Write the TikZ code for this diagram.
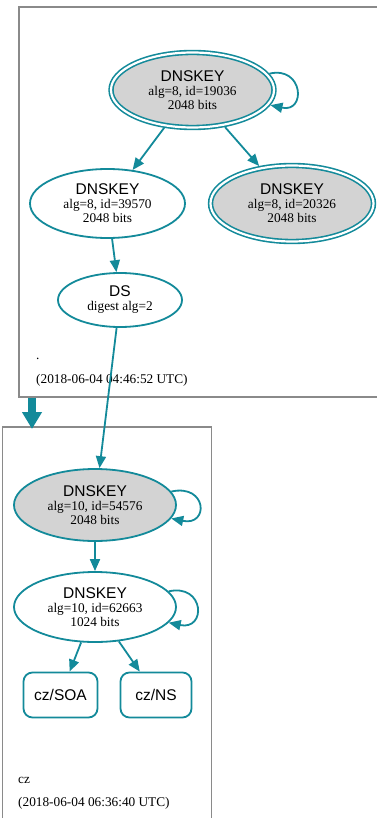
\documentclass[tikz,border=0pt]{standalone}
\usepackage{fontspec}
\setmainfont{Liberation Serif}
\setsansfont{Liberation Sans}
\usetikzlibrary{arrows.meta,shapes.geometric}
\definecolor{sec}{HTML}{138A9A}
\definecolor{kfill}{HTML}{D3D3D3}
\definecolor{clus}{HTML}{8A8A8A}
\newcommand\dkhead{{\sffamily\fontsize{15.5}{14}\selectfont DNSKEY}}
\begin{document}
\begin{tikzpicture}[x=1pt,y=-1pt,
  every node/.style={font=\fontsize{13.3}{14}\selectfont},
  key/.style={ellipse, draw=sec, line width=1.8pt, inner sep=0pt, align=center},
  ksep/.style={key, fill=kfill, double=white, double distance=2.2pt, line width=1.6pt, outer sep=2.7pt},
  rrbox/.style={rectangle, rounded corners=9pt, draw=sec, line width=1.8pt, minimum height=45pt, inner sep=0pt, font=\sffamily\fontsize{15.5}{15}\selectfont},
  edge/.style={draw=sec, line width=1.8pt, -{Triangle[length=12pt,width=10pt]}},
  cluster/.style={draw=clus, line width=1.2pt},
  lbl/.style={anchor=west, inner sep=0pt},
]
\useasboundingbox (0,0) rectangle (376,818);
% clusters
\draw[cluster] (19,7) rectangle (385,397);
\draw[cluster] (2.5,427) rectangle (211.5,825);
% top zone nodes
\node[ksep, minimum width=163pt, minimum height=75pt] (k1) at (192.5,90) {\dkhead\\alg=8, id=19036\\2048 bits};
\node[key, minimum width=155pt, minimum height=69pt] (k2) at (107.5,203.5) {\dkhead\\alg=8, id=39570\\2048 bits};
\node[ksep, minimum width=163pt, minimum height=76pt] (k2r) at (292,203.5) {\dkhead\\alg=8, id=20326\\2048 bits};
\node[key, minimum width=124pt, minimum height=54pt] (ds) at (120,300) {{\sffamily\fontsize{15.5}{14}\selectfont DS}\\digest alg=2};
\node[lbl] (dot) at (36,359) {.};
\node[lbl] (t1) at (36,380) {(2018-06-04 04:46:52 UTC)};
% bottom zone nodes
\node[key, fill=kfill, minimum width=162pt, minimum height=72pt] (k3) at (95,505) {\dkhead\\alg=10, id=54576\\2048 bits};
\node[key, minimum width=162pt, minimum height=70pt] (k4) at (95,607) {\dkhead\\alg=10, id=62663\\1024 bits};
\node[rrbox, minimum width=74pt] (soa) at (60.5,695) {cz/SOA};
\node[rrbox, minimum width=71pt] (ns) at (156,695) {cz/NS};
\node[lbl] (cz) at (18,780) {cz};
\node[lbl] (t2) at (18,803) {(2018-06-04 06:36:40 UTC)};
% edges
\draw[edge] (k1.12) .. controls +(34,-8) and +(36,8) .. (k1.-11);
\draw[edge] (k1) -- (k2);
\draw[edge] (k1) -- (k2r);
\draw[edge] (k2) -- (ds);
\draw[edge] (ds) -- (k3);
\draw[edge] (k3.10) .. controls +(36,-8) and +(38,8) .. (k3.-10);
\draw[edge] (k3) -- (k4);
\draw[edge] (k4.12) .. controls +(36,-8) and +(38,8) .. (k4.-12);
\draw[edge] (k4) -- (soa);
\draw[edge] (k4) -- (ns);
% zone delegation arrow
\coordinate (za) at (32,397.6);
\coordinate (zb) at (32,429);
\draw[draw=sec, line width=8pt, -{Triangle[length=17pt,width=19pt]}] (za) -- (zb);
\end{tikzpicture}
\end{document}
